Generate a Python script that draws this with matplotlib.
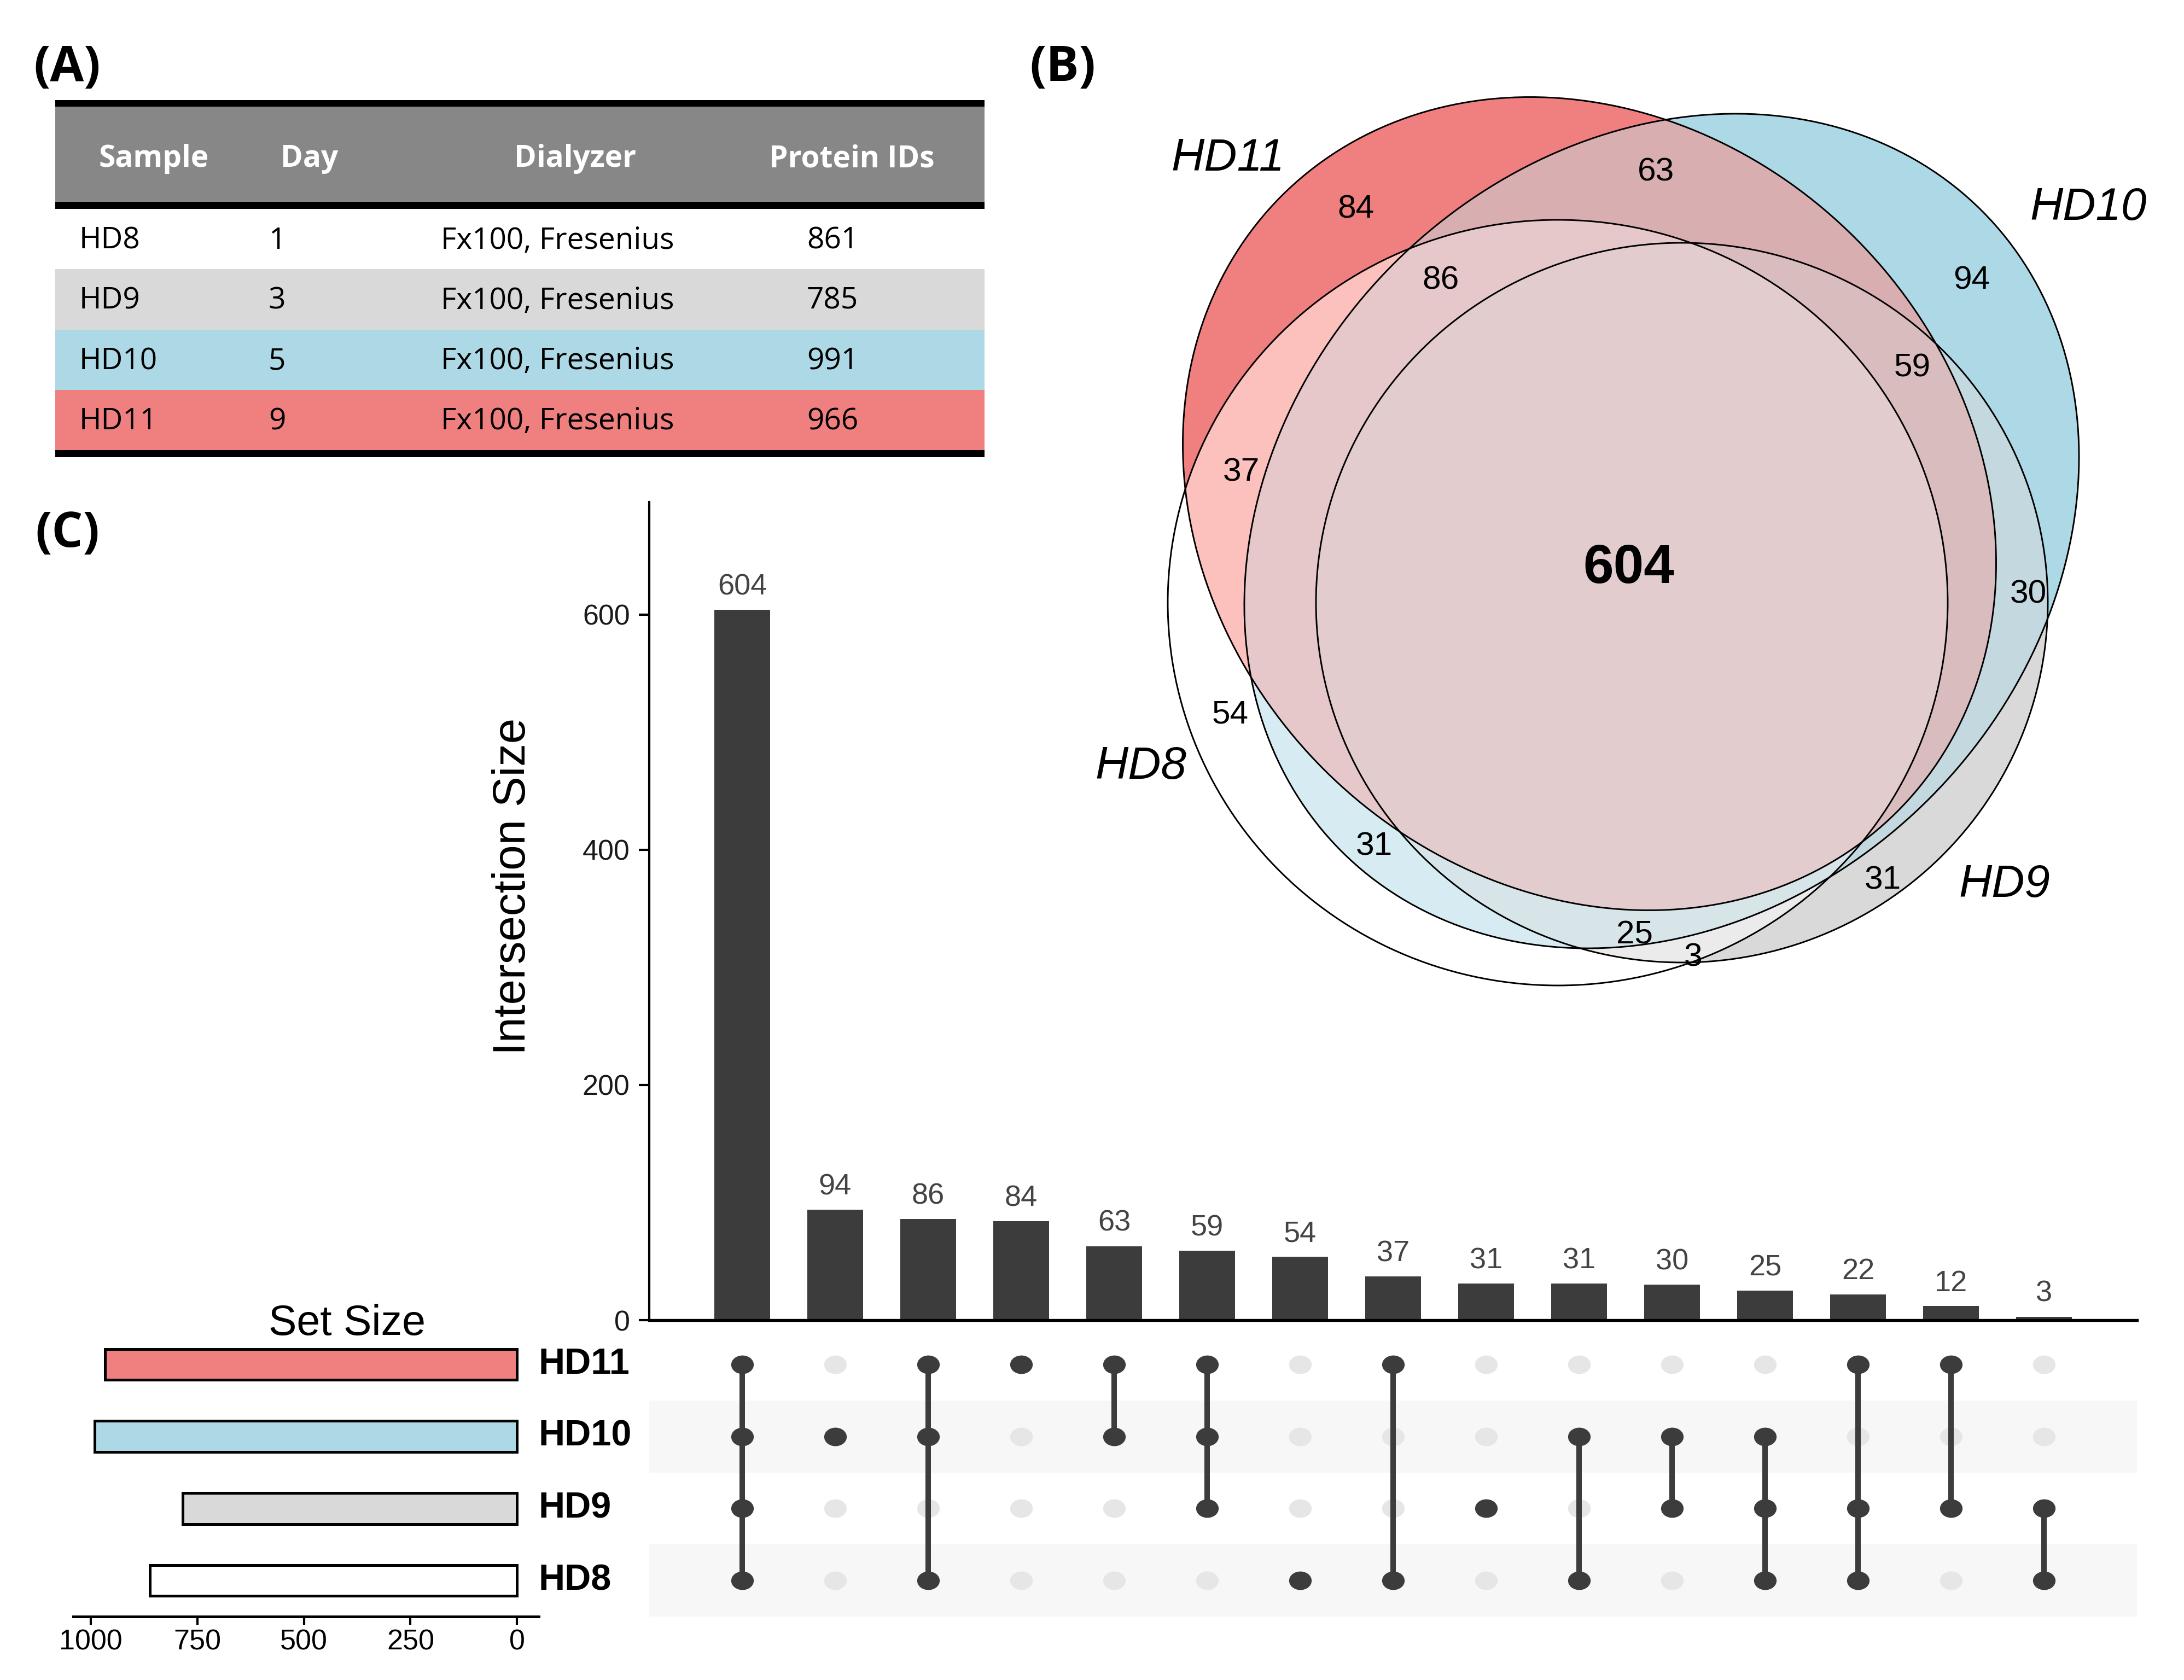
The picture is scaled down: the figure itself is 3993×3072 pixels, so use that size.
import numpy as np
import matplotlib
matplotlib.use("Agg")
import matplotlib.pyplot as plt
from matplotlib.patches import Ellipse, Rectangle
from matplotlib.path import Path
from matplotlib.transforms import Affine2D
from matplotlib.colors import to_rgb

# ---------------- data ----------------
set_names = ["HD11", "HD10", "HD9", "HD8"]
set_sizes = [966, 991, 785, 861]
set_colors = ["#F08080", "#ADD8E6", "#D9D9D9", "#FFFFFF"]

intersection_sets = [
    ("HD11", "HD10", "HD9", "HD8"), ("HD10",), ("HD11", "HD10", "HD8"), ("HD11",),
    ("HD11", "HD10"), ("HD11", "HD10", "HD9"), ("HD8",), ("HD11", "HD8"), ("HD9",),
    ("HD10", "HD8"), ("HD10", "HD9"), ("HD10", "HD9", "HD8"), ("HD11", "HD9", "HD8"),
    ("HD11", "HD9"), ("HD9", "HD8"),
]
intersection_sizes = [604, 94, 86, 84, 63, 59, 54, 37, 31, 31, 30, 25, 22, 12, 3]

table_columns = ["Sample", "Day", "Dialyzer", "Protein IDs"]
table_samples = ["HD8", "HD9", "HD10", "HD11"]
table_days = [1, 3, 5, 9]
table_dialyzers = ["Fx100, Fresenius"] * 4
table_protein_ids = [861, 785, 991, 966]
table_row_colors = ["#FFFFFF", "#D9D9D9", "#ADD8E6", "#F08080"]

# ---------------- figure ----------------
W, H, DPI = 3993, 3072, 300
fig = plt.figure(figsize=(W / DPI, H / DPI), dpi=DPI)
RFONT = ["Liberation Sans", "DejaVu Sans"]
TFONT = ["Open Sans", "DejaVu Sans"]


def px_axes(x0, y0, x1, y1, **kw):
    return fig.add_axes([x0 / W, 1 - y1 / H, (x1 - x0) / W, (y1 - y0) / H], **kw)


# colour mixing in CIE Lab (as used for Euler-diagram overlaps)
_M = np.array([[0.4124, 0.3576, 0.1805],
               [0.2126, 0.7152, 0.0722],
               [0.0193, 0.1192, 0.9505]])
_WP = np.array([0.95047, 1.0, 1.08883])


def rgb_to_lab(rgb):
    rgb = np.asarray(rgb, dtype=float)
    lin = np.where(rgb <= 0.04045, rgb / 12.92, ((rgb + 0.055) / 1.055) ** 2.4)
    xyz = (_M @ lin) / _WP
    f = np.where(xyz > 0.008856, np.cbrt(xyz), 7.787 * xyz + 16 / 116)
    return np.array([116 * f[1] - 16, 500 * (f[0] - f[1]), 200 * (f[1] - f[2])])


def lab_to_rgb(lab):
    L, a, b = lab
    fy = (L + 16) / 116
    fx = fy + a / 500
    fz = fy - b / 200
    f = np.array([fx, fy, fz])
    xyz = np.where(f ** 3 > 0.008856, f ** 3, (f - 16 / 116) / 7.787) * _WP
    lin = np.linalg.solve(_M, xyz)
    lin = np.clip(lin, 0, 1)
    rgb = np.where(lin <= 0.0031308, 12.92 * lin, 1.055 * lin ** (1 / 2.4) - 0.055)
    return np.clip(rgb, 0, 1)


canvas = px_axes(0, 0, W, H)
canvas.set_xlim(0, W)
canvas.set_ylim(H, 0)
canvas.axis("off")
canvas.set_zorder(0)

# panel labels
for lab, x, y in [("(A)", 61, 148), ("(B)", 1882, 148), ("(C)", 64, 1000)]:
    canvas.text(x, y, lab, fontsize=21.5, fontweight="bold", family=TFONT,
                ha="left", va="baseline")

# ---------------- (A) table ----------------
tx0, tx1 = 101, 1800
canvas.add_patch(Rectangle((tx0, 195), tx1 - tx0, 174, fc="#878787", ec="none"))
for y0, y1 in [(183, 195), (369, 382), (823, 836)]:
    canvas.add_patch(Rectangle((tx0, y0), tx1 - tx0, y1 - y0, fc="black", ec="none"))
row_edges = np.linspace(382, 823, len(table_samples) + 1)
header_x = [281, 566, 1052, 1557]
cell_x = [145, 491, 806, 1475]
for cname, hx in zip(table_columns, header_x):
    canvas.text(hx, 291, cname, color="white", fontsize=13.2, fontweight="bold",
                family=TFONT, ha="center", va="center")
for i in range(len(table_samples)):
    r0, r1 = row_edges[i], row_edges[i + 1]
    canvas.add_patch(Rectangle((tx0, r0), tx1 - tx0, r1 - r0,
                               fc=table_row_colors[i], ec="none"))
    yc = (r0 + r1) / 2 + 3
    vals = [table_samples[i], str(table_days[i]), table_dialyzers[i],
            str(table_protein_ids[i])]
    for v, cx in zip(vals, cell_x):
        canvas.text(cx, yc, v, fontsize=13.2, family=TFONT, ha="left",
                    va="center", color="black")

# ---------------- (B) Euler / Venn ----------------
# ellipse layout in figure pixels: (cx, cy, semi-axis along angle, other semi-axis, angle)
venn_shapes = {
    "HD11": (2906, 921, 796, 687, 45),
    "HD10": (3038, 971, 828, 692, -45),
    "HD9": (3075, 1102, 669, 658, 0),
    "HD8": (2848, 1102, 713, 700, 0),
}
gx0, gx1, gy0, gy1 = 2080, 3880, 130, 1860
xs = np.arange(gx0, gx1) + 0.5
ys = np.arange(gy0, gy1) + 0.5
XX, YY = np.meshgrid(xs, ys)
code = np.zeros(XX.shape, dtype=np.int32)
for k, name in enumerate(set_names):
    cx, cy, a, b, ang = venn_shapes[name]
    t = np.deg2rad(ang)
    dx, dy = XX - cx, YY - cy
    u = dx * np.cos(t) + dy * np.sin(t)
    v = -dx * np.sin(t) + dy * np.cos(t)
    m = (u / a) ** 2 + (v / b) ** 2 <= 1
    code[m] |= (1 << k)
labs = [rgb_to_lab(to_rgb(c)) for c in set_colors]
img = np.zeros(XX.shape + (4,), dtype=np.float32)
for c in range(1, 1 << len(set_names)):
    members = [k for k in range(len(set_names)) if c & (1 << k)]
    mix = lab_to_rgb(np.mean([labs[k] for k in members], axis=0))
    sel = code == c
    img[sel, :3] = mix
    img[sel, 3] = 1.0
canvas.imshow(img, extent=(gx0, gx1, gy1, gy0), origin="upper",
              interpolation="nearest", zorder=1)
for name in set_names:
    cx, cy, a, b, ang = venn_shapes[name]
    canvas.add_patch(Ellipse((cx, cy), 2 * a, 2 * b, angle=ang, fill=False,
                             ec="black", lw=0.7, zorder=2))

venn_label_pos = {
    ("HD11", "HD10", "HD9", "HD8"): (2978, 1040),
    ("HD10",): (3605, 513), ("HD11", "HD10", "HD8"): (2634, 513),
    ("HD11",): (2479, 383), ("HD11", "HD10"): (3028, 315),
    ("HD11", "HD10", "HD9"): (3496, 673), ("HD8",): (2249, 1307),
    ("HD11", "HD8"): (2269, 864), ("HD9",): (3442, 1610),
    ("HD10", "HD8"): (2512, 1548), ("HD10", "HD9"): (3708, 1087),
    ("HD10", "HD9", "HD8"): (2989, 1710), ("HD9", "HD8"): (3095, 1751),
}
for combo, val in zip(intersection_sets, intersection_sizes):
    if combo in venn_label_pos:
        x, y = venn_label_pos[combo]
        big = len(combo) == 4
        canvas.text(x, y, str(val), fontsize=24 if big else 14.5,
                    fontweight="bold" if big else "normal", family=RFONT,
                    ha="center", va="center", zorder=3)
venn_name_pos = {"HD11": (2245, 290), "HD10": (3818, 380),
                 "HD9": (3665, 1618), "HD8": (2086, 1402)}
for name in set_names:
    x, y = venn_name_pos[name]
    canvas.text(x, y, name, fontsize=20, style="italic", family=RFONT,
                ha="center", va="center", zorder=3)

# ---------------- (C) UpSet ----------------
dark = "#3C3C3C"
n_int = len(intersection_sizes)
cols = np.arange(n_int)

axb = px_axes(1187, 918, 3907, 2414)
axb.patch.set_visible(False)
axb.set_zorder(2)
axb.bar(cols, intersection_sizes, width=0.6, color=dark, zorder=2)
for x, v in zip(cols, intersection_sizes):
    axb.annotate(str(v), (x, v), xytext=(0, 4.0), textcoords="offset points",
                 ha="center", va="bottom", fontsize=13, family=RFONT,
                 color="#444444")
axb.set_xlim(-1, n_int)
axb.set_ylim(0, max(intersection_sizes) * 1.152)
axb.set_xticks([])
axb.set_yticks([0, 200, 400, 600])
axb.tick_params(axis="y", length=4.5, width=1, labelsize=12.5, pad=4,
                labelcolor="#1A1A1A")
for lab in axb.get_yticklabels():
    lab.set_family(RFONT)
for s in ["top", "right"]:
    axb.spines[s].set_visible(False)
axb.spines["left"].set_linewidth(1.0)
axb.spines["bottom"].set_linewidth(1.3)
axb.set_ylabel("Intersection Size", fontsize=20, family=RFONT)
axb.yaxis.set_label_coords(-0.0772, 0.53)

# matrix
axm = px_axes(1187, 2429, 3907, 2956)
axm.set_zorder(2)
n_sets = len(set_names)
axm.set_xlim(-1, n_int)
axm.set_ylim(n_sets - 0.5, -0.5)
for i in range(n_sets):
    if i % 2 == 1:
        axm.axhspan(i - 0.5, i + 0.5, color="#F7F7F7", lw=0, zorder=0)
dot = Path.unit_circle().transformed(Affine2D().scale(1.0, 0.8))
for j, combo in enumerate(intersection_sets):
    active = [i for i, s in enumerate(set_names) if s in combo]
    inactive = [i for i, s in enumerate(set_names) if s not in combo]
    axm.plot([j] * len(inactive), inactive, ls="none", marker=dot,
             ms=8.9, color="#E6E6E6", zorder=1)
    if len(active) > 1:
        axm.plot([j, j], [min(active), max(active)], color=dark, lw=2.4,
                 zorder=2)
    axm.plot([j] * len(active), active, ls="none", marker=dot, ms=8.9,
             color=dark, zorder=3)
axm.axis("off")

# set sizes
axs = px_axes(134, 2429, 985, 2956)
axs.set_zorder(2)
axs.patch.set_visible(False)
axs.barh(np.arange(n_sets), set_sizes, height=0.43, color=set_colors,
         edgecolor="black", linewidth=1.2)
axs.set_xlim(1041, -51)
axs.set_ylim(n_sets - 0.5, -0.5)
axs.set_yticks([])
axs.set_xticks([1000, 750, 500, 250, 0])
axs.tick_params(axis="x", length=3.5, width=1, labelsize=12.5, pad=2)
for lab in axs.get_xticklabels():
    lab.set_family(RFONT)
for s in ["top", "right", "left"]:
    axs.spines[s].set_visible(False)
axs.spines["bottom"].set_linewidth(1.2)
canvas.text(635, 2420, "Set Size", fontsize=18.5, family=RFONT,
            ha="center", va="center", zorder=5)
row_y = np.linspace(2495, 2890, n_sets)
for name, y in zip(set_names, row_y):
    canvas.text(985, y, name, fontsize=16, fontweight="bold", family=RFONT,
                ha="left", va="center")

fig.savefig("out.png", dpi=DPI)
